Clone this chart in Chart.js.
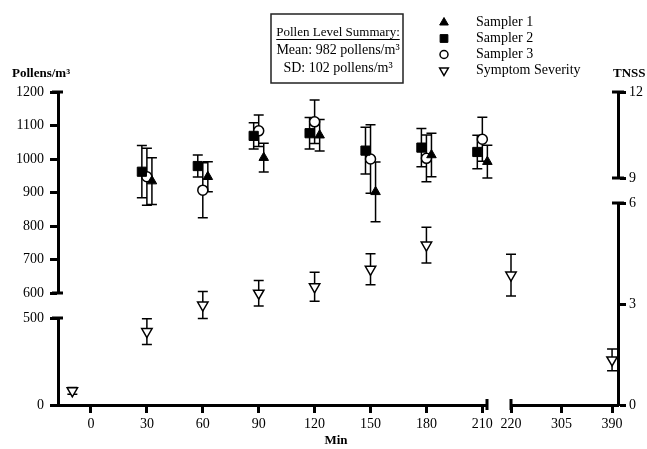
<!DOCTYPE html>
<html>
<head>
<meta charset="utf-8">
<script src="https://cdn.jsdelivr.net/npm/chart.js@4.4.1/dist/chart.umd.min.js"></script>
<style>
  html, body { margin: 0; padding: 0; background: #fff; }
  #wrap { width: 647px; height: 449px; }
</style>
</head>
<body>
<div id="wrap"><canvas id="pollenChart" width="647" height="449"></canvas></div>
<script>
// sampling times (min) and pollen counts per sampler (mean, +/- error)
const samplerTimes = [30, 60, 90, 120, 150, 180, 210];
const sampler1Mean = [934, 947, 1004, 1071, 902, 1012, 992];
const sampler1Err  = [70, 45, 43, 47, 89, 65, 49];
const sampler2Mean = [962, 979, 1069, 1077, 1025, 1034, 1021];
const sampler2Err  = [78, 33, 39, 47, 70, 57, 50];
const sampler3Mean = [947, 907, 1084, 1111, 1000, 1002, 1059];
const sampler3Err  = [85, 82, 47, 65, 102, 70, 66];

// symptom severity (TNSS, right axis)
const severityTimes = [-10, 30, 60, 90, 120, 150, 180, 220, 390];
const severityMean  = [0.42, 2.18, 2.97, 3.32, 3.51, 4.03, 4.75, 3.86, 1.34];
const severityErr   = [0.1, 0.38, 0.4, 0.38, 0.43, 0.46, 0.53, 0.62, 0.32];

// tick labels of the broken axes
const pollenHighTicks = [600, 700, 800, 900, 1000, 1100, 1200];
const pollenLowTicks  = [0, 500];
const tnssHighTicks   = [9, 12];
const tnssLowTicks    = [0, 3, 6];
const minTicksA       = [0, 30, 60, 90, 120, 150, 180, 210];
const minTicksB       = [220, 305, 390];

const summaryLines = ['Pollen Level Summary:', 'Mean: 982 pollens/m³', 'SD: 102 pollens/m³'];

const serif = "'Liberation Serif', 'Times New Roman', serif";
Chart.defaults.font.family = serif;
Chart.defaults.font.size = 14;
Chart.defaults.color = '#000';

function pts(times, vals, dodge) {
  return times.map((t, i) => ({ x: t + dodge, y: vals[i] }));
}

const splitAt = 215;
const sevA = severityTimes.map((t, i) => i).filter(i => severityTimes[i] < splitAt);
const sevB = severityTimes.map((t, i) => i).filter(i => severityTimes[i] >= splitAt);

const datasets = [
  {
    label: 'Sampler 1', xAxisID: 'x1', yAxisID: 'yHigh',
    data: pts(samplerTimes, sampler1Mean, 2.7), errors: sampler1Err,
    pointStyle: 'triangle', pointRadius: 5.5, backgroundColor: '#000', borderColor: '#000', borderWidth: 1
  },
  {
    label: 'Sampler 2', xAxisID: 'x1', yAxisID: 'yHigh',
    data: pts(samplerTimes, sampler2Mean, -2.7), errors: sampler2Err,
    pointStyle: 'rect', pointRadius: 6.5, backgroundColor: '#000', borderColor: '#000', borderWidth: 1
  },
  {
    label: 'Sampler 3', xAxisID: 'x1', yAxisID: 'yHigh',
    data: pts(samplerTimes, sampler3Mean, 0), errors: sampler3Err,
    pointStyle: 'circle', pointRadius: 5, backgroundColor: '#fff', borderColor: '#000', borderWidth: 1.5
  },
  {
    label: 'Symptom Severity', xAxisID: 'x1', yAxisID: 'y2Low',
    data: pts(sevA.map(i => severityTimes[i]), sevA.map(i => severityMean[i]), 0),
    errors: sevA.map(i => severityErr[i]),
    pointStyle: 'triangle', rotation: 180, pointRadius: 6, backgroundColor: '#fff', borderColor: '#000', borderWidth: 1.5
  },
  {
    label: 'Symptom Severity', legend: false, xAxisID: 'x2', yAxisID: 'y2Low',
    data: pts(sevB.map(i => severityTimes[i]), sevB.map(i => severityMean[i]), 0),
    errors: sevB.map(i => severityErr[i]),
    pointStyle: 'triangle', rotation: 180, pointRadius: 6, backgroundColor: '#fff', borderColor: '#000', borderWidth: 1.5
  }
];
datasets.forEach(ds => { ds.clip = false; });

// one segment of a broken axis
function segment(opts, tickList, side) {
  const s = Object.assign({
    type: 'linear',
    border: { display: true, width: 3, color: '#000' },
    grid: { display: true, drawOnChartArea: false, drawTicks: true, tickLength: 8, tickWidth: 3, tickColor: '#000' },
    ticks: {
      color: '#000', font: { size: 14 }, padding: side === 'left' ? 6 : 3,
      autoSkip: false, minRotation: 0, maxRotation: 0, callback: v => String(v)
    },
    afterBuildTicks: sc => { sc.ticks = tickList.map(v => ({ value: v })); },
  }, opts);
  if (side === 'left') s.afterFit = sc => { sc.width = 58; };
  if (side === 'right') s.afterFit = sc => { sc.width = 29; };
  if (side === 'bottom') s.afterFit = sc => { sc.height = 44; };
  return s;
}
const gap = (position, stack, stackWeight) => ({ type: 'linear', display: false, position, stack, stackWeight });

// error bars drawn from each dataset's own scales
const errorBars = {
  id: 'errorBars',
  beforeDatasetsDraw(chart) {
    const ctx = chart.ctx;
    ctx.save();
    ctx.strokeStyle = '#000';
    ctx.lineWidth = 1.5;
    chart.data.datasets.forEach((ds, i) => {
      const meta = chart.getDatasetMeta(i);
      const ys = chart.scales[ds.yAxisID];
      meta.data.forEach((el, j) => {
        const v = ds.data[j].y, e = ds.errors[j];
        const top = ys.getPixelForValue(v + e), bot = ys.getPixelForValue(v - e);
        ctx.beginPath();
        ctx.moveTo(el.x, top); ctx.lineTo(el.x, bot);
        ctx.moveTo(el.x - 5, top); ctx.lineTo(el.x + 5, top);
        ctx.moveTo(el.x - 5, bot); ctx.lineTo(el.x + 5, bot);
        ctx.stroke();
      });
    });
    ctx.restore();
  }
};

// end caps of the axis segments, titles, summary box and legend
const decorations = {
  id: 'decorations',
  afterDraw(chart) {
    const { ctx, scales } = chart;
    ctx.save();
    ctx.strokeStyle = '#000';
    ctx.lineWidth = 3;
    ctx.beginPath();
    const L = scales.yHigh.right, R = scales.y2High.left, B = scales.x1.top;
    [scales.yHigh.top, scales.yHigh.bottom, scales.yLow.top].forEach(y => { ctx.moveTo(L - 6, y); ctx.lineTo(L + 5, y); });
    [scales.y2High.top, scales.y2High.bottom, scales.y2Low.top].forEach(y => { ctx.moveTo(R - 6, y); ctx.lineTo(R + 6, y); });
    [scales.x1.right, scales.x2.left].forEach(x => { ctx.moveTo(x, B - 6); ctx.lineTo(x, B + 5); });
    ctx.stroke();

    ctx.fillStyle = '#000';
    ctx.textBaseline = 'middle';
    ctx.font = 'bold 13px ' + serif;
    ctx.textAlign = 'left';
    ctx.fillText('Pollens/m³', 12, 74);
    ctx.fillText('TNSS', 613, 74);
    ctx.textAlign = 'center';
    ctx.fillText('Min', (chart.chartArea.left + chart.chartArea.right) / 2 - 2, 441);

    // summary box
    ctx.lineWidth = 1.5;
    ctx.strokeStyle = '#222';
    ctx.strokeRect(271, 14, 132, 69);
    const cx = 338, rows = [32.5, 50.5, 68];
    summaryLines.forEach((t, i) => {
      ctx.font = (i === 0 ? '13px ' : '14px ') + serif;
      ctx.fillText(t, cx, rows[i]);
    });
    ctx.font = '13px ' + serif;
    const w = ctx.measureText(summaryLines[0]).width;
    ctx.lineWidth = 1;
    ctx.strokeStyle = '#000';
    ctx.beginPath();
    ctx.moveTo(cx - w / 2, rows[0] + 7); ctx.lineTo(cx + w / 2, rows[0] + 7);
    ctx.stroke();

    // legend
    ctx.font = '14px ' + serif;
    ctx.textAlign = 'left';
    let y = 22.5;
    chart.data.datasets.forEach(ds => {
      if (ds.legend === false) return;
      ctx.fillStyle = ds.backgroundColor;
      ctx.strokeStyle = ds.borderColor;
      ctx.lineWidth = ds.borderWidth;
      Chart.helpers.drawPoint(ctx, {
        pointStyle: ds.pointStyle, rotation: ds.rotation || 0,
        radius: ds.pointStyle === 'rect' ? 5.5 : (ds.pointStyle === 'circle' ? 4 : 5),
        borderWidth: ds.borderWidth
      }, 444, y);
      ctx.fillStyle = '#000';
      ctx.fillText(ds.label, 476, y);
      y += 16;
    });
    ctx.restore();
  }
};

new Chart(document.getElementById('pollenChart'), {
  type: 'scatter',
  data: { datasets },
  options: {
    responsive: false,
    animation: false,
    layout: { padding: { top: 92, left: 0, right: 0, bottom: 0 } },
    plugins: { legend: { display: false }, tooltip: { enabled: false }, title: { display: false } },
    scales: {
      yLow:  segment({ position: 'left', stack: 'left', stackWeight: 87, min: 0, max: 500 }, pollenLowTicks, 'left'),
      yGapL: gap('left', 'left', 25),
      yHigh: segment({ position: 'left', stack: 'left', stackWeight: 201, min: 600, max: 1200 }, pollenHighTicks, 'left'),
      y2High: segment({ position: 'right', stack: 'right', stackWeight: 86, min: 9, max: 12 }, tnssHighTicks, 'right'),
      yGapR: gap('right', 'right', 25),
      y2Low: segment({ position: 'right', stack: 'right', stackWeight: 202, min: 0, max: 6 }, tnssLowTicks, 'right'),
      x1: segment({ position: 'bottom', stack: 'bottom', stackWeight: 429, min: -17.7, max: 212.5 }, minTicksA, 'bottom'),
      xGap: gap('bottom', 'bottom', 24),
      x2: segment({ position: 'bottom', stack: 'bottom', stackWeight: 107, min: 220, max: 400 }, minTicksB, 'bottom')
    }
  },
  plugins: [errorBars, decorations]
});
</script>
</body>
</html>
